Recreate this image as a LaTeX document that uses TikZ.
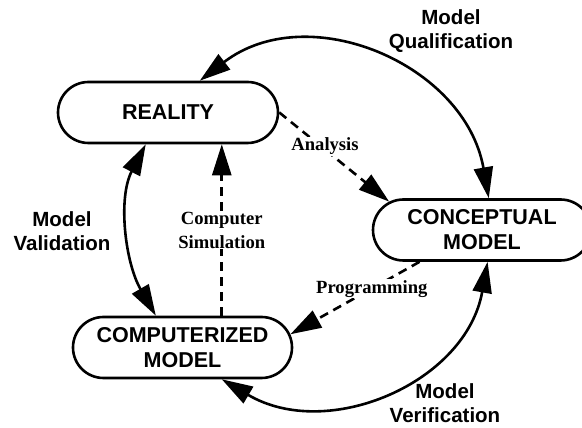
\documentclass[tikz,border=0pt]{standalone}
\usepackage{fontspec}
\setmainfont{Liberation Serif}
\setsansfont{Liberation Sans}
\usetikzlibrary{arrows.meta}
\usetikzlibrary{shapes.misc}

\begin{document}
\begin{tikzpicture}[x=1pt, y=1pt, line width=2.6pt,
    >={Triangle[length=31pt, width=19pt]},
    stage/.style={rounded rectangle, draw, minimum height=61pt, inner sep=0pt, align=center,
      font=\sffamily\bfseries\fontsize{21.5}{25}\selectfont},
    tag/.style={align=center, font=\sffamily\bfseries\fontsize{20.5}{24}\selectfont},
    act/.style={fill=white, inner sep=1pt, align=center, font=\bfseries\fontsize{18.6}{24}\selectfont},
    flow/.style={dash pattern=on 9pt off 6pt, ->}]
  \useasboundingbox (0,0) rectangle (582,428);

  \node[stage, minimum width=220pt] (real) at (168,315.5) {REALITY};
  \node[stage, minimum width=218pt] (concept) at (482,198) {CONCEPTUAL\\MODEL};
  \node[stage, minimum width=219pt] (comp) at (182.5,80.5) {COMPUTERIZED\\MODEL};

  \draw[<->] (real.45) to[out=37.5, in=100, looseness=1.12] (concept.78);
  \draw[<->] (real.235) to[out=242.5, in=120, looseness=0.91] (comp.130);
  \draw[<->] (comp.321) to[out=329.4, in=259.8, looseness=1.085] (concept.280);

  \draw[flow] (real.east) -- node[act, pos=0.38, xshift=4pt] (ana) {Analysis} (concept.163);
  \draw[flow] (concept.207) -- node[act, pos=0.37] (prog) {Programming} (comp.7);
  \draw[flow] (comp.39) -- node[act, pos=0.5] (sim) {Computer\\Simulation} (comp.39 |- real.south);

  \node[tag] (qual) at (451,397) {Model\\Qualification};
  \node[tag] (vali) at (62,197) {Model\\Validation};
  \node[tag] (veri) at (445,25) {Model\\Verification};
\end{tikzpicture}
\end{document}
